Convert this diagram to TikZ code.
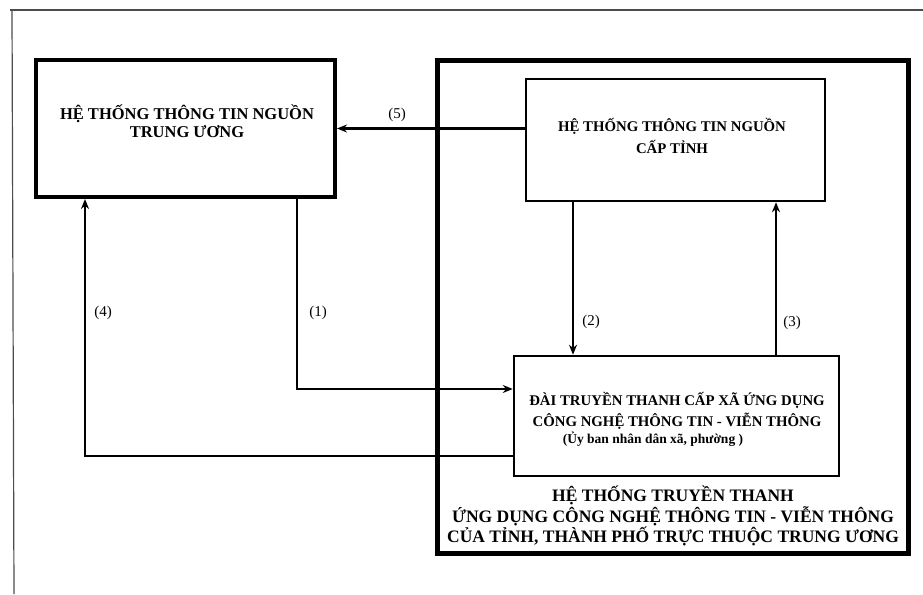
\documentclass[tikz,border=0pt]{standalone}
\usepackage{fontspec}
\setmainfont{Liberation Serif}
\usetikzlibrary{arrows.meta}
\begin{document}
\begin{tikzpicture}[x=1pt,y=-1pt,
  box/.style={draw, rectangle, inner sep=0pt, anchor=center},
  txt/.style={inner sep=0pt, align=center, anchor=center, font=\bfseries},
  num/.style={inner sep=0pt, anchor=center, font=\fontsize{15}{17}\selectfont},
  arr/.style={line width=2.3pt, -{Stealth[length=10pt,width=8pt]}},
  frame/.style={line width=1.2pt, draw=black!70}]
\useasboundingbox (0,0) rectangle (923,594);
% page frame
\draw[frame] (10,10) -- (923,10);
\draw[frame] (12,10) -- (14,594);
% boxes
\node[box, line width=4pt, minimum width=299pt, minimum height=137pt] (A) at (185.5,128.5) {};
\node[box, line width=5pt, minimum width=471pt, minimum height=492pt] (G) at (672.5,307) {};
\node[box, line width=2.5pt, minimum width=299pt, minimum height=122pt] (B) at (675.5,140) {};
\node[box, line width=2.5pt, minimum width=325pt, minimum height=120pt] (C) at (676.5,416) {};
% texts
\node[txt, font=\bfseries\fontsize{16.5}{18.5}\selectfont] (At) at (187,121) {HỆ THỐNG THÔNG TIN NGUỒN\\TRUNG ƯƠNG};
\node[txt, font=\bfseries\fontsize{14.8}{22}\selectfont] (Bt) at (672,136) {HỆ THỐNG THÔNG TIN NGUỒN\\CẤP TỈNH};
\node[txt, font=\bfseries\fontsize{14.8}{21}\selectfont] (Ct) at (677,410.5) {ĐÀI TRUYỀN THANH CẤP XÃ ỨNG DỤNG\\CÔNG NGHỆ THÔNG TIN - VIỄN THÔNG};
\node[txt, font=\bfseries\fontsize{13.5}{15}\selectfont] (Cs) at (653,439) {(Ủy ban nhân dân xã, phường )};
\node[txt, font=\bfseries\fontsize{17.5}{19}\selectfont] (Gt) at (673,516) {HỆ THỐNG TRUYỀN THANH\\ỨNG DỤNG CÔNG NGHỆ THÔNG TIN - VIỄN THÔNG\\CỦA TỈNH, THÀNH PHỐ TRỰC THUỘC TRUNG ƯƠNG};
% helper coordinates
\coordinate (x1) at (297,0);
\coordinate (y1) at (0,389);
\coordinate (x2) at (573,0);
\coordinate (x3) at (776,0);
\coordinate (x4) at (85,0);
\coordinate (y4) at (0,456);
% connectors
\draw[arr] (A.east -| B.west) -- (A.east);
\draw[arr] (B.south -| x2) -- (C.north -| x2);
\draw[arr] (C.north -| x3) -- (B.south -| x3);
\draw[arr] (A.south -| x1) |- (C.west |- y1);
\draw[arr] (C.west |- y4) -| (A.south -| x4);
% labels
\node[num] (l5) at (397,115) {(5)};
\node[num] (l2) at (591,322) {(2)};
\node[num] (l3) at (792,323) {(3)};
\node[num] (l1) at (318,313) {(1)};
\node[num] (l4) at (103,313) {(4)};
\end{tikzpicture}
\end{document}
